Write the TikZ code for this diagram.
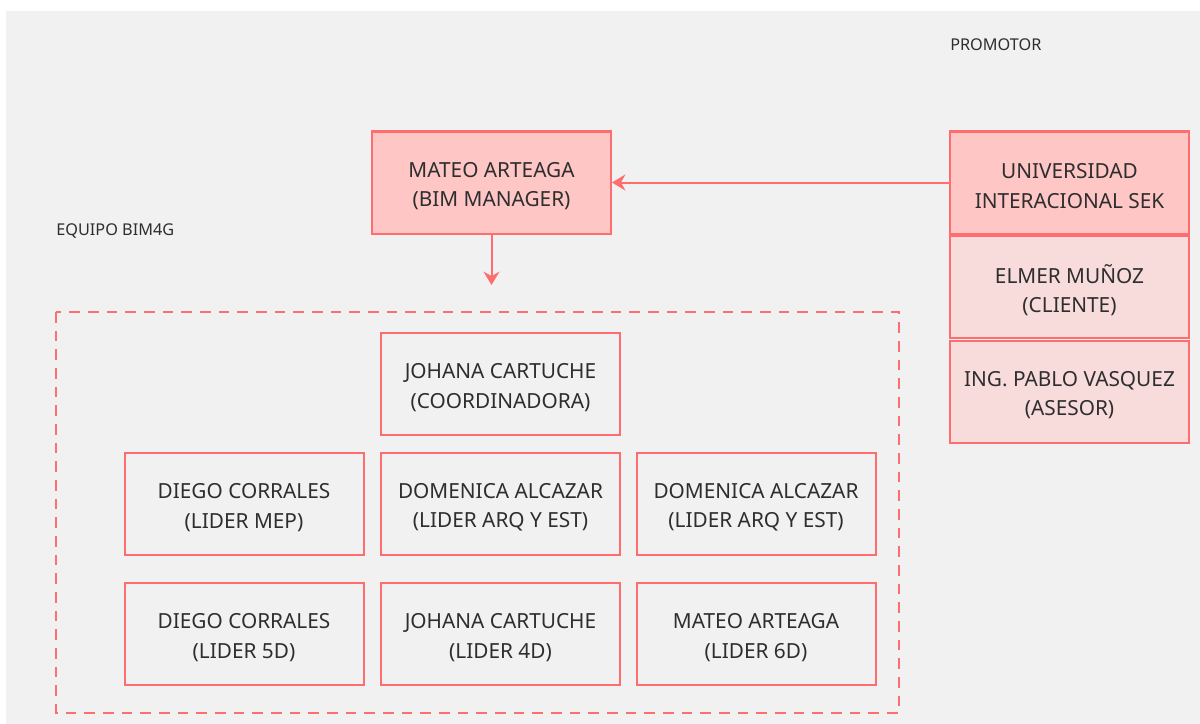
\documentclass[tikz,border=0pt]{standalone}
\usepackage{fontspec}
\usetikzlibrary{arrows.meta}
\setmainfont{Noto Sans}
\definecolor{bgc}{HTML}{F1F1F1}
\definecolor{edge}{HTML}{FF6E6E}
\definecolor{fillA}{HTML}{FFC6C6}
\definecolor{fillB}{HTML}{F8DCDC}
\definecolor{txt}{HTML}{2E2E2E}
\begin{document}
\begin{tikzpicture}[x=0.75pt,y=-0.75pt,
  box/.style={draw=edge,line width=1.5pt,minimum width=239*0.75pt,minimum height=102*0.75pt,inner sep=0pt},
  boxA/.style={box,fill=fillA},
  boxB/.style={box,fill=fillB},
  boxW/.style={box,fill=bgc},
  tx/.style={align=center,text=txt,font=\fontsize{15.6}{22}\selectfont,inner sep=0pt,yshift=-2.6pt},
  lbl/.style={text=txt,font=\fontsize{12.2}{14}\selectfont,inner sep=0pt},
  conn/.style={draw=edge,line width=1.5pt,-{Stealth[length=10pt,width=12pt]}}]
\useasboundingbox (0,0) rectangle (1200,724);
\fill[white] (0,0) rectangle (1200,724);
\fill[bgc] (6,11) rectangle (1200,724);
\node[lbl,anchor=west] (prom) at (950,44.5) {PROMOTOR};
\node[lbl,anchor=west] (equipo) at (56,230.5) {EQUIPO BIM4G};
\node[boxA] (mateo) at (491.5,182.5) {};
\node[tx] (mateo-t) at (mateo.center) {MATEO ARTEAGA\\(BIM MANAGER)};
\node[boxA] (uni) at (1069.5,182.5) {};
\node[tx] (uni-t) at (uni.center) {UNIVERSIDAD\\INTERACIONAL SEK};
\node[boxB] (elmer) at (1069.5,287) {};
\node[tx] (elmer-t) at (elmer.center) {ELMER MUÑOZ\\(CLIENTE)};
\node[boxB] (pablo) at (1069.5,391.5) {};
\node[tx] (pablo-t) at (pablo.center) {ING. PABLO VASQUEZ\\(ASESOR)};
\draw[edge,line width=1.5pt,dashed,dash pattern=on 8pt off 6pt] (56,312) rectangle (899,713);
\coordinate (tgt) at (491.5,285);
\node[boxW] (joh) at (500.5,384) {};
\node[tx] (joh-t) at (joh.center) {JOHANA CARTUCHE\\(COORDINADORA)};
\node[boxW] (d1) at (244,504) {};
\node[tx] (d1-t) at (d1.center) {DIEGO CORRALES\\(LIDER MEP)};
\node[boxW] (d2) at (500.5,504) {};
\node[tx] (d2-t) at (d2.center) {DOMENICA ALCAZAR\\(LIDER ARQ Y EST)};
\node[boxW] (d3) at (756,504) {};
\node[tx] (d3-t) at (d3.center) {DOMENICA ALCAZAR\\(LIDER ARQ Y EST)};
\node[boxW] (e1) at (244,634) {};
\node[tx] (e1-t) at (e1.center) {DIEGO CORRALES\\(LIDER 5D)};
\node[boxW] (e2) at (500.5,634) {};
\node[tx] (e2-t) at (e2.center) {JOHANA CARTUCHE\\(LIDER 4D)};
\node[boxW] (e3) at (756,634) {};
\node[tx] (e3-t) at (e3.center) {MATEO ARTEAGA\\(LIDER 6D)};
\draw[conn] (uni.west) -- (mateo.east);
\draw[conn] (mateo.south) -- (tgt);
\end{tikzpicture}
\end{document}
